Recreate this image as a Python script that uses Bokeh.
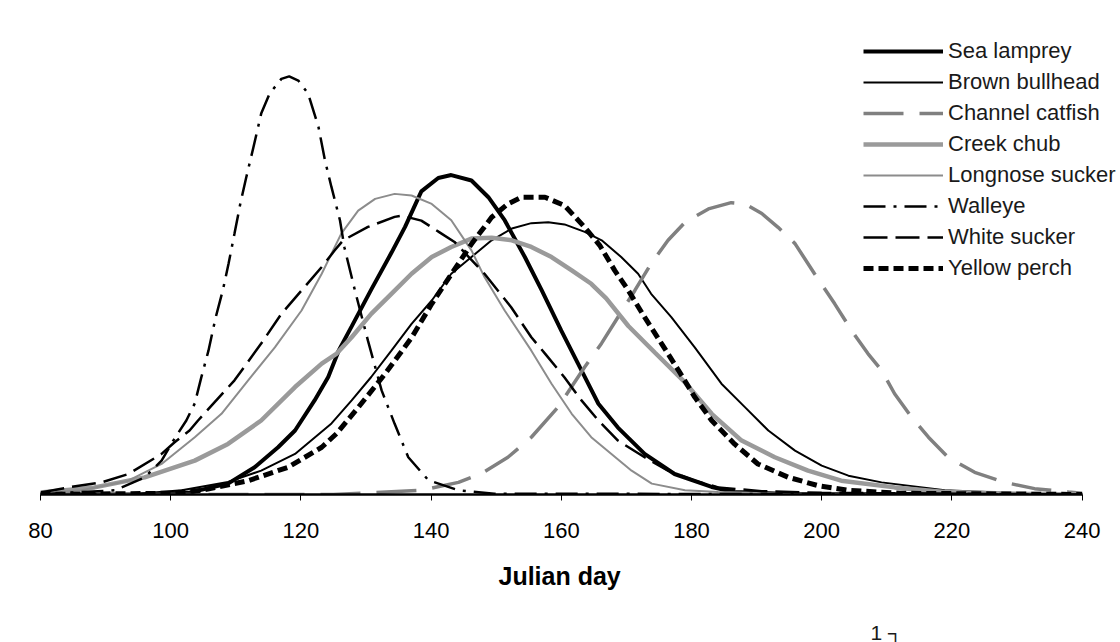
from bokeh.plotting import figure
from bokeh.models import Range1d, FixedTicker, Legend, LegendItem, Title
from bokeh.embed import file_html
from bokeh.resources import INLINE

# ---------------- data (relative spawning activity) ----------------
x_ticks = [80, 100, 120, 140, 160, 180, 200, 220, 240]

sea_lamprey_day = [80, 95, 102.7, 108.8, 112.9, 116.5, 119.1, 122.1, 124.2, 125.8, 127.8, 130.8, 133.9,
                   136.0, 138.5, 141.1, 143.1, 146.2, 148.8, 151.3, 154.4, 157.0, 160.0, 163.1, 165.7,
                   168.7, 172.8, 177.4, 183.1, 186.6, 195, 240]
sea_lamprey_val = [0, 0, 0.004, 0.026, 0.065, 0.113, 0.153, 0.225, 0.281, 0.344, 0.402, 0.490, 0.578,
                   0.640, 0.725, 0.757, 0.764, 0.751, 0.711, 0.656, 0.568, 0.488, 0.392, 0.297, 0.217,
                   0.160, 0.097, 0.049, 0.018, 0.006, 0.001, 0]

brown_bullhead_day = [80, 95, 101.7, 108.8, 113.9, 119.1, 124.7, 127.8, 130.8, 133.9, 137.0, 140.1, 143.1,
                      146.2, 149.3, 152.4, 155.4, 158.0, 160.5, 163.6, 166.2, 169.2, 171.8, 173.8, 176.9,
                      180.5, 184.6, 188.2, 191.8, 195.9, 200.0, 204.1, 209.2, 218.9, 230, 240]
brown_bullhead_val = [0, 0.002, 0.010, 0.030, 0.057, 0.097, 0.170, 0.225, 0.281, 0.344, 0.408, 0.464, 0.528,
                      0.568, 0.608, 0.636, 0.649, 0.651, 0.646, 0.628, 0.608, 0.568, 0.528, 0.480, 0.424,
                      0.352, 0.265, 0.209, 0.153, 0.105, 0.069, 0.045, 0.029, 0.010, 0.003, 0]

channel_catfish_day = [80, 125, 138.5, 144.2, 147.7, 151.8, 155.4, 159.5, 163.6, 166.2, 168.7, 171.3, 173.8,
                       176.4, 179.0, 182.6, 186.1, 188.2, 190.8, 193.3, 195.9, 198.9, 202.0, 204.6, 207.1,
                       209.2, 211.2, 213.8, 216.4, 219.4, 223.5, 228.1, 232.7, 237.9, 240]
channel_catfish_val = [0, 0, 0.010, 0.029, 0.050, 0.089, 0.137, 0.209, 0.305, 0.362, 0.424, 0.488, 0.552,
                       0.608, 0.651, 0.683, 0.698, 0.695, 0.672, 0.639, 0.600, 0.528, 0.456, 0.392, 0.337,
                       0.297, 0.241, 0.185, 0.137, 0.089, 0.053, 0.029, 0.014, 0.006, 0.003]

creek_chub_day = [80, 88.3, 96.0, 103.7, 108.8, 113.9, 119.1, 123.2, 125.5, 127.8, 130.8, 133.9, 137.0,
                  140.1, 143.1, 146.2, 149.3, 152.4, 155.4, 158.5, 161.6, 164.6, 166.9, 170.3, 174.4,
                  179.0, 183.1, 187.7, 192.8, 197.9, 203.0, 211.2, 218.9, 230, 240]
creek_chub_val = [0.005, 0.017, 0.041, 0.081, 0.121, 0.177, 0.257, 0.313, 0.337, 0.376, 0.432, 0.480, 0.528,
                  0.568, 0.592, 0.612, 0.614, 0.608, 0.592, 0.568, 0.536, 0.504, 0.469, 0.403, 0.339,
                  0.268, 0.193, 0.129, 0.089, 0.057, 0.033, 0.017, 0.006, 0.002, 0]

longnose_sucker_day = [80, 86.3, 93.5, 98.6, 103.7, 107.8, 111.9, 116.0, 120.1, 123.2, 126.2, 128.8, 131.4,
                       134.4, 137.0, 140.1, 143.1, 146.2, 148.2, 151.3, 155.4, 158.5, 161.6, 164.6, 167.7,
                       170.8, 173.9, 179.0, 184.1, 195, 240]
longnose_sucker_val = [0.003, 0.010, 0.033, 0.073, 0.137, 0.193, 0.273, 0.352, 0.440, 0.528, 0.624, 0.679,
                       0.707, 0.719, 0.715, 0.695, 0.656, 0.584, 0.520, 0.440, 0.344, 0.265, 0.193, 0.137,
                       0.097, 0.057, 0.026, 0.010, 0.006, 0.002, 0]

walleye_day = [80, 85, 91.4, 96.0, 98.6, 100.4, 102.4, 103.7, 104.7, 105.8, 106.9, 108.0, 108.9, 109.8,
               110.7, 111.6, 112.7, 113.9, 115.2, 117.0, 118.2, 119.6, 121.1, 122.7, 123.7, 124.7, 126.0,
               126.7, 128.3, 130.3, 132.4, 134.4, 136.5, 139.6, 144.2, 149.7, 240]
walleye_val = [0, 0.005, 0.010, 0.041, 0.081, 0.129, 0.177, 0.218, 0.280, 0.344, 0.423, 0.488, 0.553, 0.624,
               0.696, 0.758, 0.830, 0.911, 0.959, 0.994, 1.0, 0.990, 0.959, 0.879, 0.799, 0.735, 0.656,
               0.590, 0.488, 0.368, 0.249, 0.169, 0.089, 0.034, 0.010, 0.002, 0]

white_sucker_day = [80, 84.3, 89.4, 93.5, 98.6, 100.6, 102.9, 104.2, 109.8, 113.9, 117.0, 120.1, 123.2,
                    125.2, 126.5, 130.3, 134.4, 135.5, 138.5, 141.3, 143.6, 148.2, 152.3, 155.4, 157.5,
                    160.5, 163.1, 165.7, 168.7, 172.8, 176.4, 180.5, 184.1, 190.8, 200, 240]
white_sucker_val = [0.005, 0.017, 0.029, 0.049, 0.097, 0.125, 0.153, 0.177, 0.273, 0.361, 0.432, 0.488,
                    0.544, 0.584, 0.608, 0.640, 0.664, 0.667, 0.655, 0.627, 0.604, 0.528, 0.448, 0.376,
                    0.337, 0.280, 0.225, 0.177, 0.129, 0.089, 0.057, 0.033, 0.017, 0.008, 0.004, 0]

yellow_perch_day = [80, 100, 104.7, 111.9, 118.0, 123.2, 125.5, 128.8, 132.9, 137.0, 140.1, 143.1, 146.2,
                    149.3, 151.8, 153.9, 157.5, 160.5, 163.6, 165.9, 168.2, 170.3, 172.8, 175.4, 178.0,
                    180.5, 183.1, 186.6, 190.2, 194.9, 199.5, 204.1, 212, 240]
yellow_perch_val = [0, 0.003, 0.010, 0.033, 0.065, 0.113, 0.146, 0.208, 0.288, 0.375, 0.456, 0.527, 0.599,
                    0.663, 0.695, 0.711, 0.711, 0.691, 0.639, 0.596, 0.536, 0.488, 0.424, 0.361, 0.297,
                    0.233, 0.177, 0.121, 0.073, 0.041, 0.021, 0.010, 0.003, 0]

series = [
    ("Sea lamprey", sea_lamprey_day, sea_lamprey_val, "#000000", 4, "solid"),
    ("Brown bullhead", brown_bullhead_day, brown_bullhead_val, "#000000", 2, "solid"),
    ("Channel catfish", channel_catfish_day, channel_catfish_val, "#808080", 3.5, "40 16"),
    ("Creek chub", creek_chub_day, creek_chub_val, "#9a9a9a", 4.5, "solid"),
    ("Longnose sucker", longnose_sucker_day, longnose_sucker_val, "#8c8c8c", 2, "solid"),
    ("Walleye", walleye_day, walleye_val, "#000000", 2.5, "22 8 3 8"),
    ("White sucker", white_sucker_day, white_sucker_val, "#000000", 2.5, "24 8"),
    ("Yellow perch", yellow_perch_day, yellow_perch_val, "#000000", 5, "10 5"),
]

FONT = "Liberation Sans"

p = figure(frame_width=1080, frame_height=480,
           x_range=Range1d(80, 245.9), y_range=Range1d(0, 1.148),
           output_backend="svg", toolbar_location=None,
           y_axis_location=None,
           min_border_left=40, min_border_right=0, min_border_top=14, min_border_bottom=148)

p.outline_line_color = None
p.xgrid.visible = False
p.ygrid.visible = False
p.background_fill_color = "white"
p.border_fill_color = "white"

items = []
for name, xs, ys, color, width, dash in series:
    r = p.line(xs, ys, line_color=color, line_width=width, line_dash=dash)
    items.append(LegendItem(label=name, renderers=[r]))

ax = p.xaxis[0]
ax.bounds = (80, 240)
ax.ticker = FixedTicker(ticks=x_ticks)
ax.minor_tick_line_color = None
ax.axis_line_color = "black"
ax.axis_line_width = 2.5
ax.major_tick_line_color = "black"
ax.major_tick_line_width = 1
ax.major_tick_out = 6
ax.major_tick_in = 0
ax.major_label_text_font = FONT
ax.major_label_text_font_size = "22px"
ax.major_label_text_color = "black"
ax.major_label_standoff = 22

# axis title and a cut-off fragment of a neighbouring panel, stacked below the axis
p.add_layout(Title(text="Julian day", align="left", offset=458, standoff=39,
                   text_font=FONT, text_font_size="25px", text_font_style="bold",
                   text_color="black"), "below")
p.add_layout(Title(text="1 ┐", align="left", offset=830, standoff=18,
                   text_font=FONT, text_font_size="21px", text_font_style="normal",
                   text_color="#1a1a1a"), "below")

legend = Legend(items=items, location=(823, 212),
                label_text_font=FONT, label_text_font_size="22px", label_text_color="#1a1a1a",
                glyph_width=80, glyph_height=28, label_height=28, spacing=3,
                padding=0, margin=0, label_standoff=5,
                background_fill_alpha=0, border_line_alpha=0)
p.add_layout(legend)

open("out.html", "w").write(file_html(p, INLINE))
